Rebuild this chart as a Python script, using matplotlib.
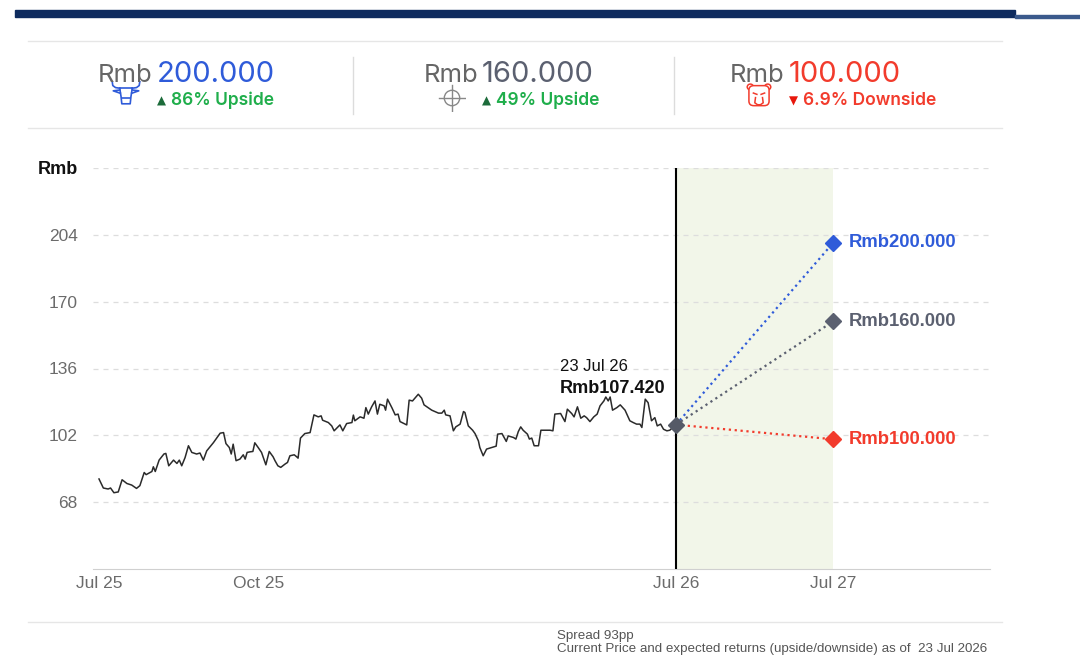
import numpy as np
import matplotlib.pyplot as plt
from matplotlib.patches import Circle, Rectangle, FancyBboxPatch
from matplotlib.lines import Line2D

# price history (x in months since Jul 2025)
hist_t = [0.00, 0.09, 0.19, 0.24, 0.31, 0.40, 0.48, 0.58, 0.68, 0.78, 0.85, 0.94, 0.98, 1.10,
          1.13, 1.17, 1.25, 1.35, 1.39, 1.45, 1.55, 1.62, 1.67, 1.72, 1.79, 1.86, 1.93, 2.03,
          2.10, 2.17, 2.24, 2.38, 2.52, 2.59, 2.64, 2.71, 2.75, 2.79, 2.85, 2.93, 3.00, 3.04,
          3.08, 3.14, 3.20, 3.24, 3.31, 3.38, 3.47, 3.54, 3.62, 3.66, 3.72, 3.78, 3.87, 3.92,
          3.97, 4.06, 4.11, 4.14, 4.19, 4.28, 4.39, 4.47, 4.56, 4.62, 4.65, 4.77, 4.84, 4.89,
          5.01, 5.07, 5.15, 5.26, 5.29, 5.32, 5.43, 5.51, 5.55, 5.60, 5.67, 5.74, 5.79, 5.84,
          5.93, 5.96, 6.00, 6.09, 6.16, 6.22, 6.26, 6.40, 6.45, 6.52, 6.64, 6.71, 6.76, 6.92,
          7.06, 7.13, 7.18, 7.21, 7.30, 7.37, 7.42, 7.51, 7.58, 7.61, 7.68, 7.77, 7.82, 7.89,
          7.92, 7.99, 8.06, 8.17, 8.26, 8.29, 8.38, 8.47, 8.51, 8.62, 8.67, 8.72, 8.77, 8.82,
          8.91, 8.95, 9.00, 9.05, 9.14, 9.19, 9.38, 9.44, 9.48, 9.60, 9.69, 9.74, 9.83, 9.88,
          9.95, 10.02, 10.09, 10.14, 10.21, 10.29, 10.36, 10.42, 10.50, 10.54, 10.59, 10.63,
          10.68, 10.77, 10.84, 10.94, 11.04, 11.11, 11.18, 11.25, 11.29, 11.36, 11.42, 11.49,
          11.56, 11.61, 11.68, 11.74, 11.81, 11.87, 12.00]
hist_price = [79.8, 75.2, 74.7, 75.2, 72.8, 73.2, 79.4, 77.5, 76.7, 75.0, 76.4, 83.1, 82.0, 83.6,
              86.0, 83.6, 89.4, 92.5, 92.8, 86.5, 89.4, 87.7, 89.4, 86.5, 90.7, 96.7, 93.3, 92.5,
              93.0, 89.4, 94.1, 98.3, 103.1, 103.4, 97.8, 95.8, 92.5, 97.5, 89.1, 89.9, 92.1, 89.9,
              93.3, 93.6, 93.8, 98.2, 95.8, 93.3, 87.0, 93.8, 91.1, 89.1, 86.5, 85.7, 87.4, 88.2,
              91.6, 92.1, 91.1, 90.4, 100.6, 102.9, 103.4, 112.4, 111.4, 111.9, 109.7, 108.5, 106.8, 104.3,
              107.3, 104.3, 108.0, 108.5, 112.3, 109.4, 111.4, 110.7, 116.1, 112.8, 116.5, 119.5, 112.8, 117.8,
              117.0, 114.8, 120.4, 116.1, 112.4, 112.8, 109.0, 107.3, 119.9, 119.5, 122.9, 120.9, 117.5, 114.8,
              113.3, 113.3, 114.8, 112.4, 111.9, 104.3, 106.3, 107.7, 114.1, 113.6, 106.8, 104.6, 102.9, 99.2,
              95.8, 91.6, 95.0, 95.8, 96.5, 102.6, 102.9, 98.9, 101.7, 100.9, 100.1, 103.9, 106.3, 104.6,
              102.6, 100.1, 100.6, 96.7, 96.7, 104.6, 104.6, 104.3, 112.8, 113.1, 109.0, 115.3, 113.1, 111.4,
              116.5, 110.7, 111.9, 111.0, 109.0, 111.4, 112.8, 117.0, 119.5, 121.5, 119.5, 121.5,
              114.8, 116.1, 117.5, 114.8, 109.4, 108.5, 107.7, 107.7, 106.0, 120.4, 118.6, 109.4,
              111.0, 106.8, 107.7, 105.1, 104.3, 104.6, 107.42]

last_date = "23 Jul 26"
last_price = 107.42
target_t = 15.27
target_prices = [200.0, 160.0, 100.0]
target_colors = ["#2f5bd9", "#5b6070", "#f23b2c"]
target_labels = ["Rmb200.000", "Rmb160.000", "Rmb100.000"]
header_values = ["200.000", "160.000", "100.000"]
header_moves = ["86% Upside", "49% Upside", "6.9% Downside"]
header_arrows = ["▲", "▲", "▼"]
header_move_colors = ["#1fae4b", "#1fae4b", "#f23b2c"]

x_ticks = [0, 3.31, 12, 15.27]
x_labels = ["Jul 25", "Oct 25", "Jul 26", "Jul 27"]
y_ticks = [68, 102, 136, 170, 204, 238]
y_labels = ["68", "102", "136", "170", "204", "Rmb"]

W, H = 1080, 666
fx = lambda px: px / W
fy = lambda py: 1 - py / H

plt.rcParams["font.family"] = ["Liberation Sans", "DejaVu Sans"]
fig = plt.figure(figsize=(10.8, 6.66), dpi=100)

# top bar and separators
fig.patches.append(Rectangle((fx(15), fy(17)), fx(1000), 7 / H, transform=fig.transFigure,
                             color="#0e2b5e", zorder=5))
fig.patches.append(Rectangle((fx(1015), fy(18)), fx(65), 3 / H, transform=fig.transFigure,
                             color="#3b5a8c", zorder=5))
for yy in [41, 128, 622]:
    fig.lines.append(Line2D([fx(28), fx(1002)], [fy(yy), fy(yy)], transform=fig.transFigure,
                            color="#e6e6e6", lw=1))
for xx in [353, 674]:
    fig.lines.append(Line2D([fx(xx), fx(xx)], [fy(57), fy(114)], transform=fig.transFigure,
                            color="#dcdcdc", lw=1))

# header blocks
hdr_font = ["Inter", "DejaVu Sans"]
block_x = [157, 482, 789]
for i in range(3):
    x0 = block_x[i]
    fig.text(fx(x0 - 4), fy(82), "Rmb", ha="right", va="baseline", fontsize=18.5,
             color="#666666", family=hdr_font)
    fig.text(fx(x0), fy(82), header_values[i], ha="left", va="baseline", fontsize=21,
             color=target_colors[i], family=hdr_font)
    fig.text(fx(x0), fy(105), header_arrows[i], ha="left", va="baseline", fontsize=8.5,
             color="#1c6b3a" if i < 2 else "#e8170c", family="DejaVu Sans")
    fig.text(fx(x0 + 14), fy(105), header_moves[i], ha="left", va="baseline", fontsize=12.5,
             color=header_move_colors[i], family=hdr_font, fontweight="semibold")

# icons
def icon_ax(cx, cy, w=30, h=24):
    a = fig.add_axes([fx(cx - w / 2), fy(cy + h / 2), w / W, h / H])
    a.set_xlim(-1, 1)
    a.set_ylim(-1, 1)
    a.axis("off")
    return a

a = icon_ax(126, 93)
c = target_colors[0]
a.plot([-0.42, -0.33, -0.28, 0.28, 0.33, 0.42], [0.4, -0.3, -0.9, -0.9, -0.3, 0.4], color=c, lw=1.2)
a.plot([-0.42, 0.42], [0.4, 0.4], color=c, lw=1.2)
a.plot([-0.42, -0.7, -0.88, -0.92], [0.4, 0.45, 0.62, 0.95], color=c, lw=1.2)
a.plot([0.42, 0.7, 0.88, 0.92], [0.4, 0.45, 0.62, 0.95], color=c, lw=1.2)
a.plot([-0.42, -0.85, -0.38], [0.25, 0.18, -0.02], color=c, lw=1.2)
a.plot([0.42, 0.85, 0.38], [0.25, 0.18, -0.02], color=c, lw=1.2)
a.plot([-0.28, 0.28], [-0.45, -0.45], color=c, lw=1.2)

a = icon_ax(452, 98, 28, 28)
a.add_patch(Circle((0, 0), 0.55, fill=False, color="#888888", lw=1))
a.plot([-0.95, 0.95], [0, 0], color="#888888", lw=1)
a.plot([0, 0], [-0.95, 0.95], color="#888888", lw=1)

a = icon_ax(759, 95, 28, 26)
c = target_colors[2]
a.add_patch(Circle((-0.62, 0.62), 0.22, fill=True, facecolor="white", edgecolor=c, lw=1.1))
a.add_patch(Circle((0.62, 0.62), 0.22, fill=True, facecolor="white", edgecolor=c, lw=1.1))
a.add_patch(FancyBboxPatch((-0.62, -0.72), 1.24, 1.34, boxstyle="round,pad=0.1,rounding_size=0.35",
                           facecolor="white", edgecolor=c, lw=1.1))
a.plot([-0.4, -0.15], [0.15, 0.05], color=c, lw=1.1)
a.plot([0.4, 0.15], [0.15, 0.05], color=c, lw=1.1)
a.plot([-0.25, -0.3, -0.1, 0.1, 0.3, 0.25], [-0.2, -0.6, -0.75, -0.75, -0.6, -0.2], color=c, lw=1.1)

# main chart
ax = fig.add_axes([fx(93), fy(569), fx(990) - fx(93), (569 - 168) / H])
ax.set_xlim(-0.125, 18.53)
ax.set_ylim(34, 238)

ax.axvspan(12, target_t, color="#f2f6e9", zorder=0, lw=0)
ax.axvline(12, color="black", lw=1.5, zorder=3)
ax.plot(hist_t, hist_price, color="#2b2b2b", lw=1.1, zorder=4)

for p, col, lab in zip(target_prices, target_colors, target_labels):
    ax.plot([12, target_t], [last_price, p], ls=":", color=col, lw=1.6, zorder=4)
    ax.plot(target_t, p, marker="D", ms=8, color=col, zorder=5, clip_on=False)
    ax.annotate(lab, (target_t, p), xytext=(16, 0), textcoords="offset pixels",
                ha="left", va="center", fontsize=13.3, fontweight="bold", color=col)

ax.plot(12, last_price, marker="D", ms=8, color="#555a66", zorder=6)
ax.annotate(last_date, (12, last_price), xytext=(-116, 54), textcoords="offset pixels",
            ha="left", va="baseline", fontsize=12, color="#111111")
ax.annotate("Rmb%.3f" % last_price, (12, last_price), xytext=(-116, 32), textcoords="offset pixels",
            ha="left", va="baseline", fontsize=13, fontweight="bold", color="#111111")

ax.set_yticks(y_ticks)
ax.set_yticklabels(y_labels)
ax.set_xticks(x_ticks)
ax.set_xticklabels(x_labels)
ax.tick_params(axis="both", length=0, labelsize=12.5, labelcolor="#6b6b6b")
ax.tick_params(axis="y", pad=11)
ax.tick_params(axis="x", pad=5)
rl = ax.get_yticklabels()[-1]
rl.set_fontweight("bold")
rl.set_color("#111111")
rl.set_fontsize(13)
ax.grid(axis="y", color="#dddddd", lw=0.9, ls=(0, (4, 4)))
ax.set_axisbelow(True)
for s in ["top", "right", "left"]:
    ax.spines[s].set_visible(False)
ax.spines["bottom"].set_color("#d0d0d0")

# footer
fig.text(fx(557), fy(639), "Spread 93pp", ha="left", va="baseline", fontsize=9.6, color="#555555")
fig.text(fx(557), fy(652), "Current Price and expected returns (upside/downside) as of  23 Jul 2026",
         ha="left", va="baseline", fontsize=9.6, color="#555555")

fig.savefig("out.png", dpi=100)
